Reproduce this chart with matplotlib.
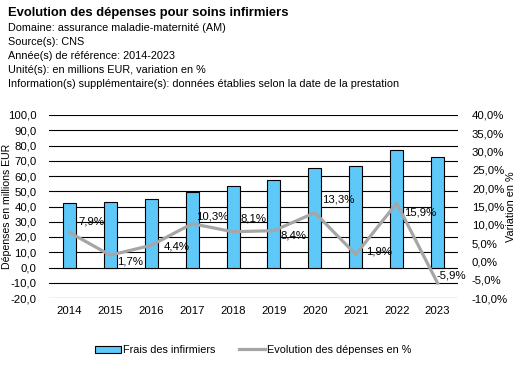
import numpy as np
import matplotlib.pyplot as plt
from matplotlib.ticker import FuncFormatter
from matplotlib.lines import Line2D
from matplotlib.patches import Patch

plt.rcParams['font.family'] = ['Liberation Sans', 'DejaVu Sans']

years = ['2014', '2015', '2016', '2017', '2018', '2019', '2020', '2021', '2022', '2023']
frais = [42.0, 42.7, 44.6, 49.2, 53.2, 57.7, 65.3, 66.6, 77.2, 72.6]
evol = [7.9, 1.7, 4.4, 10.3, 8.1, 8.4, 13.3, 1.9, 15.9, -5.9]
# label offsets in pixels (dx, dy) relative to each point
lab_off = [(9, 11), (7, -6), (12, -1), (4, 7), (7, 13), (7, -5), (7, 13), (10, 3), (7, -9), (-1, 7)]

fig = plt.figure(figsize=(5.18, 3.65), dpi=100)
ax = fig.add_axes([49/518, 1-298/365, 409/518, 183/365])
ax2 = ax.twinx()

x = np.arange(len(years))
ax.bar(x, frais, width=0.32, color='#5EC8F8', edgecolor='black', linewidth=0.8, zorder=3)
ax.set_ylim(-20, 100)
ax.set_yticks(np.arange(-20, 101, 10))
ax.set_xlim(-0.5, len(years)-0.5)
ax.set_xticks(x)
ax.set_xticklabels(years, fontsize=8.2)
ax.yaxis.set_major_formatter(FuncFormatter(lambda v, p: f'{v:.1f}'.replace('.', ',')))
ax.grid(axis='y', color='black', linewidth=0.8, zorder=0)
ax.set_axisbelow(True)
ax.tick_params(length=0, labelsize=8.2)
ax.tick_params(axis='y', pad=9)
ax.tick_params(axis='x', pad=6)
for s in ax.spines.values():
    s.set_visible(False)
ax.set_ylabel('Dépenses en millions EUR', fontsize=7.6)
ax.yaxis.set_label_coords(-37/409, 0.5)

ax2.plot(x, evol, color='#A6A6A6', linewidth=2.3, zorder=4)
ax2.set_ylim(-10, 40)
ax2.set_yticks(np.arange(-10, 41, 5))
ax2.yaxis.set_major_formatter(FuncFormatter(lambda v, p: f'{v:.1f}%'.replace('.', ',')))
ax2.tick_params(length=0, labelsize=8.2, pad=10)
for s in ax2.spines.values():
    s.set_visible(False)
ax2.set_ylabel('Variation en %', fontsize=7.8)
ax2.yaxis.set_label_coords(1 + 48/409, 0.5)

for i, v in enumerate(evol):
    dx, dy = lab_off[i]
    ax2.annotate(f'{v:.1f}%'.replace('.', ','), (x[i], v), xytext=(dx*0.72, dy*0.72),
                 textcoords='offset points', fontsize=8.2, ha='left', va='center', zorder=5)

fig.text(8/518, 1-13/365, 'Evolution des dépenses pour soins infirmiers', fontsize=9.4,
         fontweight='bold', va='center')
info = ['Domaine: assurance maladie-maternité (AM)', 'Source(s): CNS',
        'Année(s) de référence: 2014-2023', 'Unité(s): en millions EUR, variation en %',
        'Information(s) supplémentaire(s): données établies selon la date de la prestation']
for k, t in enumerate(info):
    fig.text(8/518, 1-(28+14*k)/365, t, fontsize=7.8, va='center')

handles = [Patch(facecolor='#5EC8F8', edgecolor='black', linewidth=0.8),
           Line2D([0], [0], color='#A6A6A6', linewidth=2.3)]
fig.legend(handles, ['Frais des infirmiers', 'Evolution des dépenses en %'],
           loc='center', bbox_to_anchor=(253/518, 1-350/365), ncol=2, frameon=False,
           fontsize=7.8, handlelength=2.4, handleheight=0.6, columnspacing=2.2, handletextpad=0.2)

fig.savefig('out.png', dpi=100)
